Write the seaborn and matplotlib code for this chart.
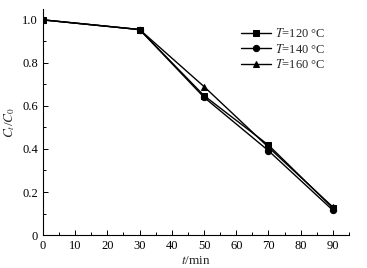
import matplotlib
matplotlib.use('Agg')
import matplotlib.pyplot as plt
import seaborn as sns
import pandas as pd
from matplotlib.ticker import MultipleLocator, FuncFormatter

# data
times = [0, 30, 50, 70, 90]
c_120 = [1.0, 0.955, 0.648, 0.418, 0.125]
c_140 = [1.0, 0.955, 0.640, 0.392, 0.115]
c_160 = [1.0, 0.955, 0.690, 0.408, 0.130]
labels = ['$T$=120 \u00b0C', '$T$=140 \u00b0C', '$T$=160 \u00b0C']

sns.set_style('ticks')
plt.rcParams['font.family'] = ['Liberation Serif', 'DejaVu Serif']
plt.rcParams['mathtext.fontset'] = 'stix'
plt.rcParams['font.size'] = 9

rows = []
for lab, vals in zip(labels, [c_120, c_140, c_160]):
    for t, v in zip(times, vals):
        rows.append({'t': t, 'c': v, 'series': lab})
df = pd.DataFrame(rows)

fig = plt.figure(figsize=(3.67, 2.68), dpi=100)
ax = fig.add_axes([0.117, 0.123, 0.834, 0.843])

sns.lineplot(data=df, x='t', y='c', hue='series', style='series',
             palette=['black'] * 3, markers=['s', 'o', '^'], dashes=False,
             markersize=4.5, linewidth=1.0, markeredgecolor='black', ax=ax)

ax.set_xlim(0, 95)
ax.set_ylim(0, 1.05)
ax.xaxis.set_major_locator(MultipleLocator(10))
ax.xaxis.set_minor_locator(MultipleLocator(5))
ax.yaxis.set_major_locator(MultipleLocator(0.2))
ax.yaxis.set_minor_locator(MultipleLocator(0.1))
ax.yaxis.set_major_formatter(FuncFormatter(lambda v, p: '0' if abs(v) < 1e-9 else '%.1f' % v))
ax.tick_params(which='both', direction='in', labelsize=9, width=0.7, colors='black')
ax.tick_params(which='major', length=3.5)
ax.tick_params(which='minor', length=2)
for s in ['top', 'right']:
    ax.spines[s].set_visible(False)
for s in ['left', 'bottom']:
    ax.spines[s].set_linewidth(0.8)
    ax.spines[s].set_color('black')

ax.set_xlabel('$t$/min', fontsize=9.5, labelpad=2)
ax.set_ylabel('$C_t$/$C_0$', fontsize=9.5)

ax.legend(title=None, frameon=False, loc='upper left', bbox_to_anchor=(0.61, 0.97),
          fontsize=9, handlelength=2.4, handletextpad=0.3, labelspacing=0.2)

fig.savefig('out.png', dpi=100)
